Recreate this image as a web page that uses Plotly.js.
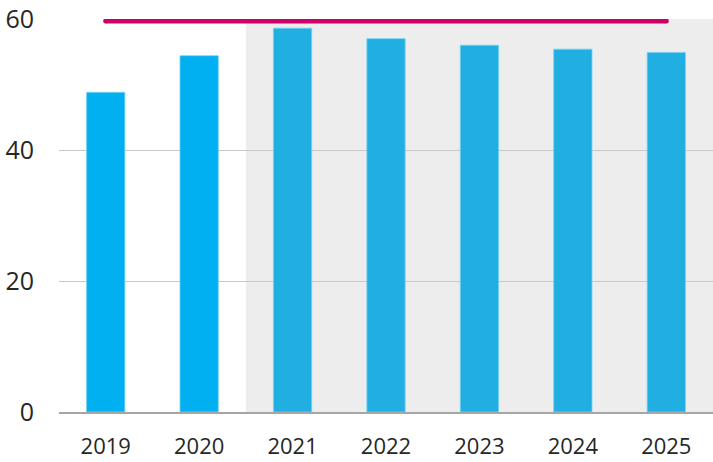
<!DOCTYPE html>
<html>
<head>
<meta charset="utf-8">
<script src="https://cdn.plot.ly/plotly-3.0.1.min.js"></script>
<style>html,body{margin:0;padding:0;background:#fff;}#chart{width:713px;height:462px;}</style>
</head>
<body>
<div id="chart"></div>
<script>
const years = ['2019','2020','2021','2022','2023','2024','2025'];
const values = [48.8, 54.4, 58.6, 57.0, 56.0, 55.4, 54.9];
const barColors = ['#00B0F0','#00B0F0','#21AEE1','#21AEE1','#21AEE1','#21AEE1','#21AEE1'];
const targetYears = ['2019','2025'];
const targetValues = [59.7, 59.7];
const yTicks = [0, 20, 40, 60];

const traces = [
  {
    type: 'bar', x: years, y: values,
    marker: {color: barColors, line: {color: 'rgba(120,210,245,0.8)', width: 1}},
    hoverinfo: 'x+y'
  },
  {
    type: 'scatter', mode: 'lines+markers', x: targetYears, y: targetValues,
    line: {color: '#CC0066', width: 5},
    marker: {color: '#CC0066', size: 5, line: {width: 0}},
    hoverinfo: 'skip'
  }
];

const layout = {
  width: 713, height: 462,
  margin: {l: 59, r: 0, t: 19, b: 50},
  paper_bgcolor: '#ffffff', plot_bgcolor: 'rgba(0,0,0,0)',
  showlegend: false,
  bargap: 0.59,
  font: {family: 'Open Sans, sans-serif', color: '#262626'},
  xaxis: {
    type: 'category', showgrid: false, zeroline: false,
    showline: true, linecolor: '#A6A6A6', linewidth: 2,
    tickfont: {size: 22, color: '#262626'},
    ticklabelstandoff: 14,
    range: [-0.5, 6.5]
  },
  yaxis: {
    range: [0, 60], tickvals: yTicks, ticktext: yTicks.map(String),
    showgrid: true, gridcolor: '#C8C8C8', gridwidth: 1,
    zeroline: false, showline: false,
    tickfont: {size: 25, color: '#262626'},
    ticklabelstandoff: 24
  },
  shapes: [{
    type: 'rect', layer: 'below', xref: 'x', yref: 'y',
    x0: 1.5, x1: 6.5, y0: 0, y1: 60,
    fillcolor: '#EDEDED', line: {width: 0}
  }]
};

Plotly.newPlot('chart', traces, layout, {displayModeBar: false, staticPlot: true});
</script>
</body>
</html>
